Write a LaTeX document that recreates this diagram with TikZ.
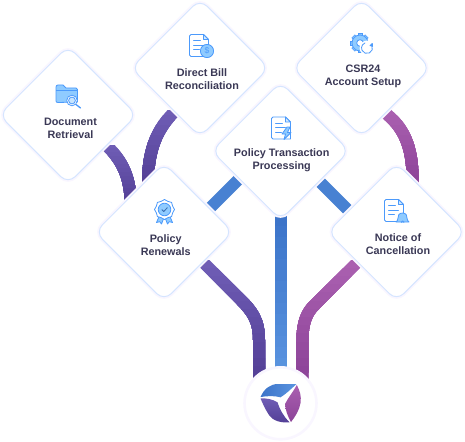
\documentclass[tikz,border=0pt]{standalone}
\usepackage{fontspec}
\setmainfont{Liberation Sans}
\usetikzlibrary{shapes.geometric,backgrounds,calc}
\definecolor{halo}{HTML}{F9F6FF}
\definecolor{edgeb}{HTML}{D5E5FF}
\definecolor{ink}{HTML}{3A3855}
\definecolor{iconb}{HTML}{4C9AFB}
\definecolor{iconl}{HTML}{8FCBFF}
\definecolor{vioA}{HTML}{6F5DB5}
\definecolor{vioB}{HTML}{533F96}
\definecolor{bluA}{HTML}{3C74C9}
\definecolor{bluB}{HTML}{5A94E0}
\definecolor{pnkA}{HTML}{AA60B0}
\definecolor{pnkB}{HTML}{8C4398}
\tikzset{
 card/.style={shape=diamond,minimum width=138,minimum height=138,inner sep=0,fill=white,draw=edgeb,line width=1,rounded corners=10,preaction={draw=halo,line width=4.4}},
 lbl/.style={font=\bfseries\fontsize{10.8}{13}\selectfont,text=ink,align=center,inner sep=0},
 ic/.style={draw=iconb,line width=.8,line join=round},
 icf/.style={ic,fill=iconl},
 lines/.style={draw=iconb,line width=.8,line cap=round},
}
% gradient along y: path, colour 1, colour 2, y top, y bottom, width
\newcommand\gradline[6]{%
 \foreach \k in {0,...,14}{%
  \pgfmathsetmacro\pct{100*\k/14}%
  \pgfmathsetmacro\yy{#4+(#5-#4)*\k/14}%
  \begin{scope}
   \clip (0,\yy) rectangle (465,441);
   \draw[line width=#6,color={#3!\pct!#2}] #1;
  \end{scope}}}
\newcommand\docicon[2]{% x y of top-left, 19x22
 \begin{scope}[shift={(#1,#2)}]
  \draw[ic,fill=white] (1.5,0) -- (14,0) -- (19,5) -- (19,22) -- (1.5,22) .. controls (.5,22) and (0,21.5) .. (0,20.5) -- (0,1.5) .. controls (0,.5) and (.5,0) .. (1.5,0) -- cycle;
  \draw[ic,fill=iconl!40] (14,0) -- (14,5) -- (19,5) -- cycle;
  \draw[lines] (4,6) -- (11,6) (4,10.5) -- (14,10.5) (4,15) -- (10,15);
 \end{scope}}
\begin{document}
\begin{tikzpicture}[x=1pt,y=-1pt]
\useasboundingbox (0,0) rectangle (465,441);
\node[card] (doc) at (68,115) {};
\node[card] (bill) at (200,68) {};
\node[card] (csr) at (361.5,68) {};
\node[card] (ren) at (164,232) {};
\node[card] (note) at (396.5,232) {};
\node[card] (trans) at (280.5,151) {};
\node[circle,minimum size=72,inner sep=0,fill=white,draw=halo,line width=2.6] (logo) at (280.5,403.3) {};

\node[lbl] (t1) at (70.5,128.3) {Document\\Retrieval};
\node[lbl] (t2) at (202,79.3) {Direct Bill\\Reconciliation};
\node[lbl] (t3) at (363,76.3) {CSR24\\Account Setup};
\node[lbl] (t4) at (281.7,160.3) {Policy Transaction\\Processing};
\node[lbl] (t5) at (165.7,245.3) {Policy\\Renewals};
\node[lbl] (t6) at (398,244.3) {Notice of\\Cancellation};

\begin{pgfonlayer}{background}
 \gradline{(doc.center) -- ([shift={(34,26)}]doc.center) .. controls ([shift={(55,45)}]doc.center) and ([shift={(63,62)}]doc.center) .. ([shift={(63,95)}]doc.center)}{vioA}{vioB}{145}{200}{12}
 \gradline{(bill.center) -- ([shift={(-25,43)}]bill.center) .. controls ([shift={(-42,60)}]bill.center) and ([shift={(-52,80)}]bill.center) .. ([shift={(-52,115)}]bill.center) -- ([shift={(-52,140)}]bill.center)}{vioA}{vioB}{110}{180}{12}
 \gradline{(csr.center) -- ([shift={(24,45)}]csr.center) .. controls ([shift={(36,55)}]csr.center) and ([shift={(51,70)}]csr.center) .. ([shift={(51,110)}]csr.center) -- ([shift={(51,140)}]csr.center)}{pnkA}{pnkB}{110}{180}{12}
 \draw[line width=12,bluB!40!bluA] ([shift={(0,22)}]ren.center) -- ([shift={(0,-13.5)}]trans.center);
 \draw[line width=12,bluB!40!bluA] ([shift={(0,-8.5)}]trans.center) -- ([shift={(0,26.5)}]note.center);
 \gradline{(trans.center) -- (trans.center |- logo.center)}{bluA}{bluB}{215}{370}{12}
 \gradline{([shift={(9,0)}]ren.center) -- ([shift={(76,67)}]ren.center) .. controls ([shift={(88,79)}]ren.center) and ([shift={(95,88)}]ren.center) .. ([shift={(95,108)}]ren.center) -- ([xshift=-21.5]logo.center)}{vioA}{vioB}{260}{375}{12}
 \gradline{([shift={(-9,0)}]note.center) -- ([shift={(-81.5,72.5)}]note.center) .. controls ([shift={(-89.5,80)}]note.center) and ([shift={(-94,90)}]note.center) .. ([shift={(-94,108)}]note.center) -- ([xshift=21.5]logo.center)}{pnkA}{pnkB}{260}{375}{12}
\end{pgfonlayer}

% folder icon
\begin{scope}[shift={(56,85)}]
 \draw[ic,fill=iconl] (0,2) .. controls (0,.7) and (.7,0) .. (2,0) -- (7,0) -- (10,3) -- (20,3) .. controls (21,3) and (21.5,3.5) .. (21.5,4.5) -- (21.5,17) -- (2,17.5) .. controls (.7,17.5) and (0,17) .. (0,16) -- cycle;
 \draw[draw=iconb,line width=.6] (0,5.5) -- (21.5,5.5);
 \draw[ic,fill=white] (16,15.5) circle (5.3);
 \draw[ic,fill=iconl!50] (16,15.5) circle (3.4);
 \draw[draw=iconb,line width=1.3,line cap=round] (20,19.5) -- (24.5,23);
\end{scope}
% doc + dollar
\docicon{189.5}{34.5}
\draw[ic,fill=iconl] (207,51) circle (6.6);
\node[inner sep=0,text=iconb,font=\fontsize{8.5}{8.5}\selectfont] (d1) at (207,51) {\$};
% gear + refresh
\begin{scope}[shift={(360,43)}]
 \foreach \a in {0,45,...,315}{\fill[iconl,draw=iconb,line width=.5,rotate=\a] (-2.2,-9.4) rectangle (2.2,-6);}
 \draw[icf] (0,0) circle (8);
 \draw[ic,fill=white] (0,0) circle (3.3);
 \fill[white] (7,5) circle (7.4);
 \draw[ic] (7,5) ++(-25:5.5) arc (-25:250:5.5);
 \draw[ic,fill=iconb] (10,2.6) -- (12.3,.4) -- (12.6,3.4) -- cycle;
\end{scope}
% doc + bolt
\docicon{271.5}{117}
\draw[ic,fill=iconl] (287,127) -- (282,134) -- (285.5,134) -- (284,139.5) -- (291,132.5) -- (287.5,132.5) -- (290,127) -- cycle;
% rosette
\begin{scope}[shift={(164.5,209.5)}]
 \draw[ic,fill=iconl] (-5,6) -- (-8,13) -- (-4.8,12.2) -- (-3,14.5) -- (-.5,8) -- cycle;
 \draw[ic,fill=iconl] (5,6) -- (8,13) -- (4.8,12.2) -- (3,14.5) -- (.5,8) -- cycle;
 \draw[ic,fill=white] (0,0) ++(0:10) \foreach \a in {22.5,45,...,337.5}{ -- ({\a}:{mod(\a,45)==0 ? 10 : 8.8})} -- cycle;
 \draw[ic,fill=iconl] (0,0) circle (6.3);
 \draw[draw=iconb!70!black,line width=.8,line cap=round,line join=round] (-2.6,.2) -- (-.7,2) -- (2.8,-1.8);
\end{scope}
% doc + bell
\docicon{384.5}{199.5}
\draw[ic,fill=iconl] (402.5,213) .. controls (406.5,213) and (407,216) .. (407,218) .. controls (407,220) and (408,221) .. (409,222) -- (396,222) .. controls (397,221) and (398,220) .. (398,218) .. controls (398,216) and (398.5,213) .. (402.5,213) -- cycle;
\draw[ic,fill=iconl] (401,222.5) arc (180:360:1.6);

% logo
\shade[left color=bluA,right color=bluB] (260.5,397) .. controls (264,389) and (270,384) .. (278,384) -- (296.5,384) .. controls (291,389) and (286,394) .. (280.5,397.3) .. controls (274,395.5) and (267,396) .. (260.5,397) -- cycle;
\shade[top color=vioA,bottom color=vioB] (260.5,398.5) .. controls (266,398) and (272,399) .. (277.5,402.3) .. controls (280,410) and (284,417) .. (289.5,422.3) .. controls (281,423) and (273,421) .. (269,415) .. controls (265,409) and (263,404) .. (260.5,398.5) -- cycle;
\shade[top color=pnkA,bottom color=pnkB] (296.8,385) .. controls (300,391) and (301.5,396) .. (300.5,403) .. controls (299.5,410) and (295,417) .. (291,422) .. controls (287.5,416) and (285.5,410) .. (285,404) .. controls (288,398) and (293,392) .. (296.8,385) -- cycle;
\end{tikzpicture}
\end{document}
